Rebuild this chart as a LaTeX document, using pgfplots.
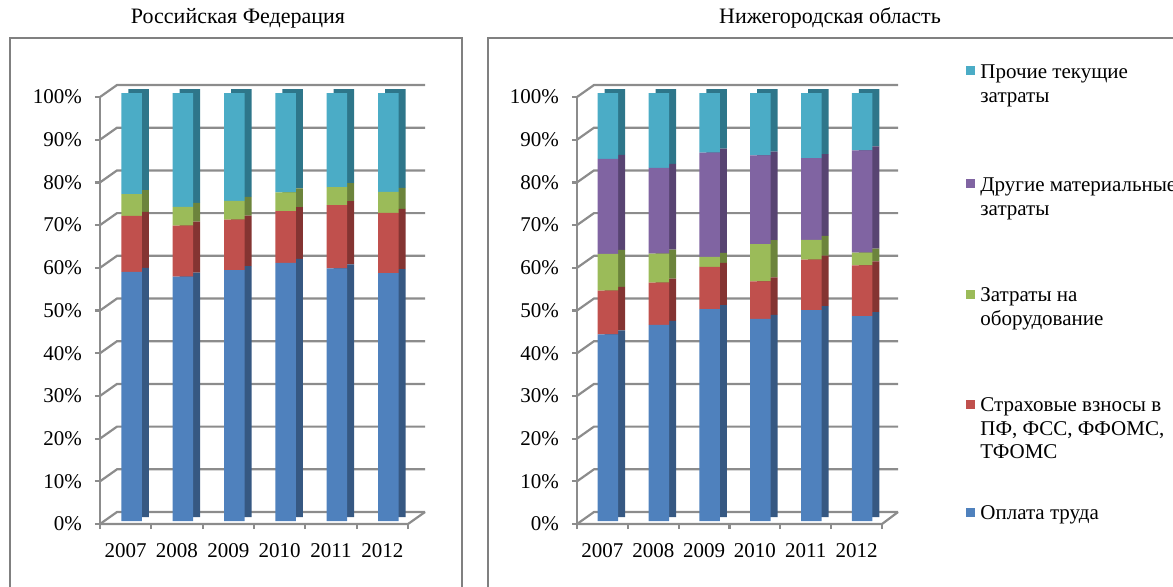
\documentclass[border=0pt]{standalone}
\usepackage{pgfplots}
\pgfplotsset{compat=1.18}
\usepackage{pgfplotstable}
\usepackage{fontspec}
\setmainfont{Liberation Serif}

\definecolor{cBlue}{RGB}{79,129,189}
\definecolor{cRed}{RGB}{192,80,77}
\definecolor{cGreen}{RGB}{155,187,89}
\definecolor{cPurple}{RGB}{128,100,162}
\definecolor{cCyan}{RGB}{75,172,198}
\definecolor{dBlue}{RGB}{54,88,130}
\definecolor{dRed}{RGB}{132,52,50}
\definecolor{dGreen}{RGB}{108,132,60}
\definecolor{dPurple}{RGB}{88,68,114}
\definecolor{dCyan}{RGB}{46,118,138}
\definecolor{gridc}{RGB}{140,140,140}
\definecolor{framec}{RGB}{128,128,128}

% Российская Федерация
\pgfplotstableread{
x    blue red  green cyan
0.5  58.2 13.1 5.1  23.6
1.5  57.1 11.9 4.4  26.6
2.5  58.6 11.8 4.4  25.2
3.5  60.3 12.1 4.4  23.2
4.5  59.0 14.8 4.2  22.0
5.5  57.9 14.1 4.9  23.1
}\rf

% Нижегородская область
\pgfplotstableread{
x    blue red  green purple cyan
0.5  43.6 10.2 8.6  22.2   15.4
1.5  45.8 9.9  6.8  20.0   17.5
2.5  49.5 9.9  2.3  24.4   13.9
3.5  47.2 8.8  8.7  20.7   14.6
4.5  49.3 11.8 4.6  19.1   15.2
5.5  47.9 11.8 3.0  23.9   13.4
}\nn

\newcommand{\fs}{\fontsize{10.5pt}{12pt}\selectfont}

\pgfplotsset{
  barax/.style={scale only axis, hide axis, clip=false,
    xmin=0, xmax=6, ymin=0, ymax=100, height=214pt,
    ybar stacked, bar width=10.25pt, anchor=south west},
  frameax/.style={scale only axis, clip=false,
    xmin=0, xmax=6, ymin=0, ymax=100, height=213.5pt,
    anchor=south west,
    axis x line*=bottom, axis y line*=left,
    axis line style={draw=gridc, line width=1.1pt},
    tick style={draw=gridc, line width=1.1pt},
    major tick length=2.5pt, tick align=outside,
    xtick={0,...,6}, xticklabels={2007,2008,2009,2010,2011,2012},
    x tick label as interval,
    ytick={0,10,...,100},
    yticklabel={\pgfmathprintnumber{\tick}\%},
    /pgf/number format/assume math mode=true,
    tick label style={font=\fs, text=black},
    xticklabel style={yshift=-3.5pt},
    yticklabel style={xshift=-3pt}},
}

\begin{document}
\begin{tikzpicture}
\path[use as bounding box] (0,0) rectangle (586.5pt,-293pt);
\clip (0,0) rectangle (586.5pt,-293pt);

\begin{scope}[x=0.5pt,y=-0.5pt]
  % frames
  \draw[framec, line width=1.2pt] (10,38) rectangle (462,620);
  \draw[framec, line width=1.2pt] (488,38) rectangle (1200,620);
  % walls / grid
  \foreach \v in {0,10,...,100}{
    \draw[gridc, line width=1.1pt] (100,{524-4.27*\v}) -- (117,{512-4.27*\v}) -- (425,{512-4.27*\v});
    \draw[gridc, line width=1.1pt] (577,{524-4.27*\v}) -- (594,{512-4.27*\v}) -- (898,{512-4.27*\v});
  }
  \draw[gridc, line width=1.1pt] (100,524) -- (408,524) -- (425,512);
  \draw[gridc, line width=1.1pt] (577,524) -- (882,524) -- (898,512);
  % titles
  \node[font=\fontsize{11pt}{13pt}\selectfont] at (238,18) {Российская Федерация};
  \node[font=\fontsize{11pt}{13pt}\selectfont] at (830,18) {Нижегородская область};
  % legend
  \foreach \c/\y in {cCyan/70, cPurple/183, cGreen/294, cRed/404, cBlue/512}{
    \fill[\c] (966,\y-4.5) rectangle (975,\y+4.5);
  }
  \foreach \t/\y in {Прочие текущие/78, затраты/102,
                     Другие материальные/191, затраты/215,
                     Затраты на/301, оборудование/325,
                     Страховые взносы в/411, {ПФ, ФСС, ФФОМС,}/435, ТФОМС/458,
                     Оплата труда/519}{
    \node[anchor=base west, inner sep=0pt, font=\fs] at (980,\y) {\t};
  }
\end{scope}

% ---------- left panel ----------
\begin{axis}[frameax, at={(50pt,-262pt)}, width=154pt]
  \addplot[draw=none] coordinates {(0,0)};
\end{axis}
\begin{axis}[barax, at={(56.5pt,-258.5pt)}, width=154pt]
  \addplot[fill=dBlue, draw=none] table[x=x,y=blue]{\rf};
  \addplot[fill=dRed, draw=none] table[x=x,y=red]{\rf};
  \addplot[fill=dGreen, draw=none] table[x=x,y=green]{\rf};
  \addplot[fill=dCyan, draw=none] table[x=x,y=cyan]{\rf};
\end{axis}
\begin{axis}[barax, at={(53pt,-260.5pt)}, width=154pt]
  \addplot[fill=cBlue, draw=none] table[x=x,y=blue]{\rf};
  \addplot[fill=cRed, draw=none] table[x=x,y=red]{\rf};
  \addplot[fill=cGreen, draw=none] table[x=x,y=green]{\rf};
  \addplot[fill=cCyan, draw=none] table[x=x,y=cyan]{\rf};
\end{axis}

% ---------- right panel ----------
\begin{axis}[frameax, at={(288.5pt,-262pt)}, width=152.5pt]
  \addplot[draw=none] coordinates {(0,0)};
\end{axis}
\begin{axis}[barax, at={(294.75pt,-258.5pt)}, width=152.5pt]
  \addplot[fill=dBlue, draw=none] table[x=x,y=blue]{\nn};
  \addplot[fill=dRed, draw=none] table[x=x,y=red]{\nn};
  \addplot[fill=dGreen, draw=none] table[x=x,y=green]{\nn};
  \addplot[fill=dPurple, draw=none] table[x=x,y=purple]{\nn};
  \addplot[fill=dCyan, draw=none] table[x=x,y=cyan]{\nn};
\end{axis}
\begin{axis}[barax, at={(291.25pt,-260.5pt)}, width=152.5pt]
  \addplot[fill=cBlue, draw=none] table[x=x,y=blue]{\nn};
  \addplot[fill=cRed, draw=none] table[x=x,y=red]{\nn};
  \addplot[fill=cGreen, draw=none] table[x=x,y=green]{\nn};
  \addplot[fill=cPurple, draw=none] table[x=x,y=purple]{\nn};
  \addplot[fill=cCyan, draw=none] table[x=x,y=cyan]{\nn};
\end{axis}
\end{tikzpicture}
\end{document}
